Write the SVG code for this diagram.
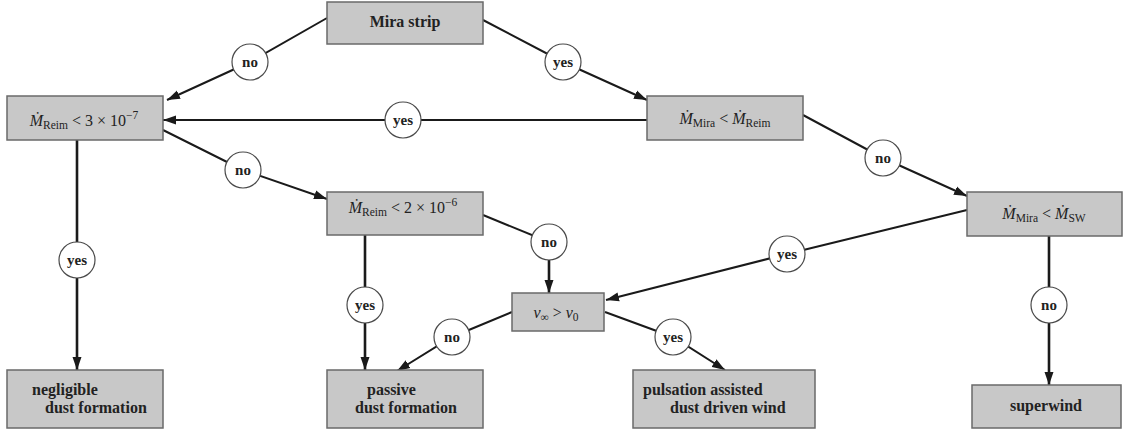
<svg xmlns="http://www.w3.org/2000/svg" width="1123" height="432" viewBox="0 0 1123 432">
<defs>
<marker id="ah" markerUnits="userSpaceOnUse" markerWidth="14" markerHeight="10" refX="13" refY="5" orient="auto">
<path d="M0,0.5 L13,5 L0,9.5 z" fill="#1a1a1a"/>
</marker>
</defs>
<style>
.box{fill:#c8c8c8;stroke:#6a6a6a;stroke-width:1.5}
.ln{fill:none;stroke:#1a1a1a;stroke-width:2;marker-end:url(#ah)}
.lv{fill:none;stroke:#1a1a1a;stroke-width:2.6;marker-end:url(#ah)}
.pl{fill:none;stroke:#1a1a1a;stroke-width:2}
.lbl circle{fill:#fff;stroke:#4a4a4a;stroke-width:1.2}
.lbl text{font-family:"Liberation Serif","DejaVu Serif",serif;font-weight:bold;font-size:15px;text-anchor:middle;fill:#222}
.t{font-family:"Liberation Serif","DejaVu Serif",serif;font-weight:bold;font-size:16px;fill:#222}
.m{font-family:"Liberation Serif","DejaVu Serif",serif;font-size:16px;fill:#222;text-anchor:middle}
.i{font-style:italic}
.s{font-size:11.5px}
</style>
<rect width="1123" height="432" fill="#fff"/>
<g id="connectors">
<path class="ln" d="M327,18 L250,62 L167,100"/>
<path class="ln" d="M483,20 L563,62 L647,100"/>
<path class="ln" d="M647,120 L163,120"/>
<path class="ln" d="M163,130 L243,170 L327,199"/>
<path class="ln" d="M803,115 L883,158 L967,196"/>
<path class="ln" d="M967,210 L787,254 L606,300"/>
<path class="lv" d="M77,140 L77,370"/>
<path class="lv" d="M365,235 L365,370"/>
<path class="lv" d="M1049,236 L1049,385"/>
<path class="pl" d="M483,215 L549,242"/>
<path class="lv" d="M549,242 L549,293"/>
<path class="ln" d="M512,312 L452,337 L397,371"/>
<path class="ln" d="M605,312 L673,337 L725,370"/>
<g class="lbl">
<circle cx="250" cy="62" r="18"/><text x="250" y="67">no</text>
<circle cx="563" cy="62" r="18"/><text x="563" y="67">yes</text>
<circle cx="403" cy="120" r="18"/><text x="403" y="125">yes</text>
<circle cx="243" cy="170" r="18"/><text x="243" y="175">no</text>
<circle cx="883" cy="158" r="18"/><text x="883" y="163">no</text>
<circle cx="787" cy="254" r="18"/><text x="787" y="259">yes</text>
<circle cx="77" cy="260" r="18"/><text x="77" y="265">yes</text>
<circle cx="365" cy="305" r="18"/><text x="365" y="310">yes</text>
<circle cx="549" cy="242" r="18"/><text x="549" y="247">no</text>
<circle cx="452" cy="337" r="18"/><text x="452" y="342">no</text>
<circle cx="673" cy="337" r="18"/><text x="673" y="342">yes</text>
<circle cx="1049" cy="305" r="18"/><text x="1049" y="310">no</text>
</g>
</g>
<g id="mira-strip">
<rect class="box" x="327" y="2" width="156" height="42"/>
<text class="t" x="405" y="27" text-anchor="middle">Mira strip</text>
</g>
<g id="reim-3e-7">
<rect class="box" x="7" y="96" width="156" height="44"/>
<text class="m" x="84" y="126"><tspan class="i">Ṁ</tspan><tspan class="s" dy="3">Reim</tspan><tspan dy="-3"> &lt; 3 × 10</tspan><tspan class="s" dy="-7">−7</tspan></text>
</g>
<g id="mira-reim">
<rect class="box" x="647" y="96" width="156" height="44"/>
<text class="m" x="725" y="124"><tspan class="i">Ṁ</tspan><tspan class="s" dy="3">Mira</tspan><tspan dy="-3"> &lt; </tspan><tspan class="i">Ṁ</tspan><tspan class="s" dy="3">Reim</tspan></text>
</g>
<g id="mira-sw">
<rect class="box" x="967" y="192" width="155" height="44"/>
<text class="m" x="1044" y="219"><tspan class="i">Ṁ</tspan><tspan class="s" dy="3">Mira</tspan><tspan dy="-3"> &lt; </tspan><tspan class="i">Ṁ</tspan><tspan class="s" dy="3">SW</tspan></text>
</g>
<g id="reim-2e-6">
<rect class="box" x="327" y="192" width="156" height="43"/>
<text class="m" x="403" y="213"><tspan class="i">Ṁ</tspan><tspan class="s" dy="3">Reim</tspan><tspan dy="-3"> &lt; 2 × 10</tspan><tspan class="s" dy="-7">−6</tspan></text>
</g>
<g id="v-inf">
<rect class="box" x="512" y="293" width="92" height="38"/>
<text class="m" x="556" y="318"><tspan class="i">v</tspan><tspan class="s" dy="3">∞</tspan><tspan dy="-3"> &gt; </tspan><tspan class="i">v</tspan><tspan class="s" dy="3">0</tspan></text>
</g>
<g id="negligible">
<rect class="box" x="7" y="370" width="156" height="58"/>
<text class="t" x="32" y="395">negligible</text>
<text class="t" x="45" y="413">dust formation</text>
</g>
<g id="passive">
<rect class="box" x="327" y="370" width="156" height="58"/>
<text class="t" x="367" y="395">passive</text>
<text class="t" x="355" y="413">dust formation</text>
</g>
<g id="pulsation">
<rect class="box" x="633" y="370" width="182" height="58"/>
<text class="t" x="643" y="395">pulsation assisted</text>
<text class="t" x="670" y="413">dust driven wind</text>
</g>
<g id="superwind">
<rect class="box" x="972" y="385" width="149" height="43"/>
<text class="t" x="1046" y="411" text-anchor="middle">superwind</text>
</g>
</svg>
